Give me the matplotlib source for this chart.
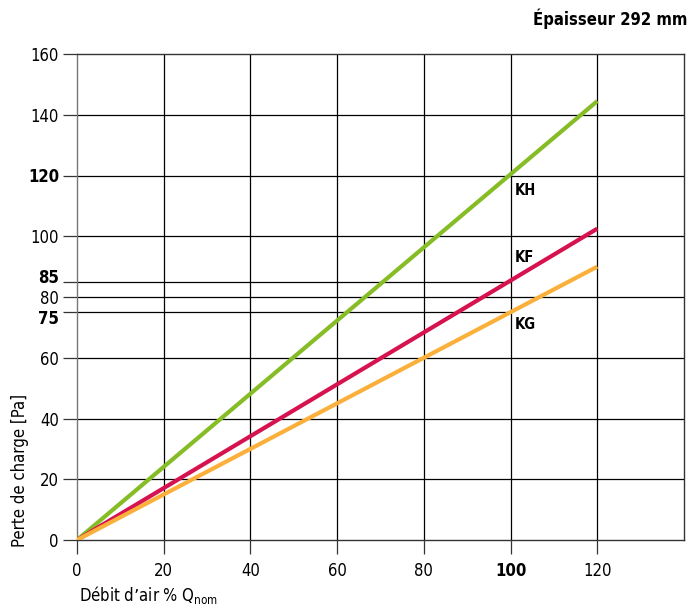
import matplotlib.pyplot as plt
import matplotlib.transforms as mtransforms

# Data (pressure drop vs nominal air flow)
flow = [0, 120]
kh = [0, 144.5]
kf = [0, 102.5]
kg = [0, 90]
curve_names = ['KH', 'KF', 'KG']
curve_colors = ['#86bc25', '#d6124f', '#fbb03b']
label_y = [115, 93, 71]

xticks = [0, 20, 40, 60, 80, 100, 120]
yticks = [0, 20, 40, 60, 75, 80, 85, 100, 120, 140, 160]
bold_y = [75, 85, 120]
bold_x = [100]
short_lines = [75, 85]  # only drawn up to 100 %
label_shift = {85: 6, 75: -5}  # px, so the crowded labels don't collide

plt.rcParams['font.family'] = 'DejaVu Sans'
plt.rcParams['font.stretch'] = 'condensed'

fig = plt.figure(figsize=(6.89, 6.06), dpi=100)
ax = fig.add_axes([77 / 689, 66 / 606, 607 / 689, 486 / 606])
ax.set_xlim(0, 140)
ax.set_ylim(0, 160)

# grid
for x in [20, 40, 60, 80, 100, 120]:
    ax.axvline(x, color='black', lw=0.9, zorder=1)
for y in [20, 40, 60, 80, 100, 120, 140]:
    ax.axhline(y, color='black', lw=0.9, zorder=1)
for y in short_lines:
    ax.plot([0, 100], [y, y], color='black', lw=0.9, zorder=1)

for spine in ax.spines.values():
    spine.set_color('#333333')
    spine.set_linewidth(1.0)
ax.spines['left'].set_color('#777777')

ax.plot(flow, kh, color=curve_colors[0], lw=3, solid_capstyle='butt', zorder=3)
ax.plot(flow, kf, color=curve_colors[1], lw=3, solid_capstyle='butt', zorder=3)
ax.plot(flow, kg, color=curve_colors[2], lw=3, solid_capstyle='butt', zorder=3)

for name, yy in zip(curve_names, label_y):
    ax.text(101, yy, name, fontsize=10.5, fontweight='bold', va='center', ha='left')

ax.set_xticks(xticks)
ax.set_yticks(yticks)
ax.tick_params(axis='both', length=10, width=0.9, color='#333333', labelsize=12)
ax.tick_params(axis='y', pad=3)
ax.tick_params(axis='x', pad=6)
for lbl, v in zip(ax.get_yticklabels(), yticks):
    lbl.set_fontstretch('condensed')
    if v in bold_y:
        lbl.set_fontweight('bold')
    if v in label_shift:
        off = mtransforms.ScaledTranslation(0, label_shift[v] / 100, fig.dpi_scale_trans)
        lbl.set_transform(lbl.get_transform() + off)
for lbl, v in zip(ax.get_xticklabels(), xticks):
    lbl.set_fontstretch('condensed')
    if v in bold_x:
        lbl.set_fontweight('bold')

fig.text(20 / 689, 1 - 470 / 606, 'Perte de charge [Pa]', rotation=90,
         fontsize=12, ha='center', va='center')
fig.text(79 / 689, 1 - 595 / 606, r'Débit d’air % Q$_{\mathregular{nom}}$',
         fontsize=12, ha='left', va='center')
fig.text(687 / 689, 1 - 19 / 606, 'Épaisseur 292 mm', fontsize=12,
         fontweight='bold', ha='right', va='center')

fig.savefig('out.png', dpi=100)
